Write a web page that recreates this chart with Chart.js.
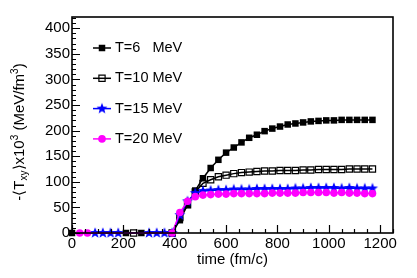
<!DOCTYPE html>
<html>
<head>
<meta charset="utf-8">
<script src="https://cdn.jsdelivr.net/npm/chart.js@4.4.1/dist/chart.umd.min.js"></script>
<style>
  html, body { margin: 0; padding: 0; background: #fff; }
  #wrap { width: 417px; height: 278px; }
</style>
</head>
<body>
<div id="wrap"><canvas id="chart" width="417" height="278"></canvas></div>
<script>
"use strict";

// time points (fm/c) and -<Txy> x 10^3 values
const rampTimes = [390, 420, 450, 480, 510, 540, 570, 600, 630, 660, 690, 720, 750,
  780, 810, 840, 870, 900, 930, 960, 990, 1020, 1050, 1080, 1110, 1140, 1170];

const times6 = [0, 210, 270].concat(rampTimes);
const values6 = [0, 0, 0,
  0, 25, 55, 83, 107, 127, 143, 157, 167, 177, 186, 192, 199,
  204, 208, 212, 214, 216, 218, 219, 220, 220, 221, 221, 221, 221, 221];

const times10 = [240].concat(rampTimes);
const values10 = [0,
  0, 30, 55, 80, 97, 104, 110, 113, 116, 118, 119, 120, 121,
  121, 122, 122, 122, 123, 123, 124, 124, 124, 124, 125, 125, 125, 125];

const times15 = [90, 120, 150, 180, 300, 330, 360].concat(rampTimes);
const values15 = [0, 0, 0, 0, 0, 0, 0,
  0, 35, 62, 78, 82, 83, 84, 84, 85, 85, 85, 86, 86,
  86, 86, 86, 87, 87, 88, 88, 88, 88, 87, 88, 87, 87, 87];

const times20 = [30, 60].concat(rampTimes);
const values20 = [0, 0,
  0, 40, 62, 71, 74, 75, 76, 76, 77, 77, 77, 77, 77,
  78, 78, 78, 78, 79, 79, 79, 79, 78, 79, 78, 78, 77, 77];

const seriesLabels = ["T=6   MeV", "T=10 MeV", "T=15 MeV", "T=20 MeV"];

const yTicks = [0, 50, 100, 150, 200, 250, 300, 350, 400];
const xTicks = [0, 200, 400, 600, 800, 1000, 1200];

const FONT = "'Liberation Sans', Arial, Helvetica, sans-serif";

function toPoints(xs, ys) {
  return xs.map((x, i) => ({ x: x, y: ys[i] }));
}

// filled blue star marker
function makeStar(color, outer, inner) {
  const size = Math.ceil(outer * 2 + 2);
  const c = document.createElement("canvas");
  c.width = size;
  c.height = size;
  const g = c.getContext("2d");
  g.fillStyle = color;
  g.beginPath();
  for (let i = 0; i < 10; i++) {
    const r = i % 2 === 0 ? outer : inner;
    const a = -Math.PI / 2 + (i * Math.PI) / 5;
    const px = size / 2 + r * Math.cos(a);
    const py = size / 2 + r * Math.sin(a);
    if (i === 0) g.moveTo(px, py);
    else g.lineTo(px, py);
  }
  g.closePath();
  g.fill();
  return c;
}

const starMarker = makeStar("#0000ff", 5.8, 2.4);

const datasets = [
  {
    label: seriesLabels[0],
    data: toPoints(times6, values6),
    borderColor: "#000000",
    backgroundColor: "#000000",
    pointStyle: "rect",
    pointRadius: 4.6,
    pointBorderWidth: 0,
    order: 4,
  },
  {
    label: seriesLabels[1],
    data: toPoints(times10, values10),
    borderColor: "#000000",
    backgroundColor: "rgba(0,0,0,0)",
    pointStyle: "rect",
    pointRadius: 4.4,
    pointBorderWidth: 1.2,
    order: 3,
  },
  {
    label: seriesLabels[2],
    data: toPoints(times15, values15),
    borderColor: "#0000ff",
    backgroundColor: "#0000ff",
    pointStyle: starMarker,
    pointRadius: 5,
    order: 2,
  },
  {
    label: seriesLabels[3],
    data: toPoints(times20, values20),
    borderColor: "#ff00ff",
    backgroundColor: "#ff00ff",
    pointStyle: "circle",
    pointRadius: 3.8,
    pointBorderWidth: 0,
    order: 1,
  },
].map((ds) => Object.assign(ds, {
  borderWidth: 1.5,
  tension: 0,
  fill: false,
  clip: false,
  pointHoverRadius: ds.pointRadius,
}));

// frame, inside ticks, axis titles and legend, ROOT style
const rootStylePlugin = {
  id: "rootStyle",
  afterDraw(chart) {
    const ctx = chart.ctx;
    const area = chart.chartArea;
    const xs = chart.scales.x;
    const ys = chart.scales.y;

    ctx.save();
    ctx.strokeStyle = "#000";
    ctx.lineWidth = 1.2;
    ctx.beginPath();
    for (let v = 0; v <= 420; v += 10) {
      const py = Math.round(ys.getPixelForValue(v)) + 0.5;
      const len = v % 50 === 0 ? 8 : 4;
      ctx.moveTo(area.left, py);
      ctx.lineTo(area.left + len, py);
    }
    for (let v = 0; v <= 1250; v += 50) {
      const px = Math.round(xs.getPixelForValue(v)) + 0.5;
      const len = v % 200 === 0 ? 8 : 4;
      ctx.moveTo(px, area.bottom);
      ctx.lineTo(px, area.bottom - len);
    }
    ctx.stroke();

    ctx.lineWidth = 1.6;
    ctx.strokeRect(area.left, area.top, area.right - area.left, area.bottom - area.top);

    // x title
    ctx.fillStyle = "#000";
    ctx.font = "15px " + FONT;
    ctx.textAlign = "center";
    ctx.textBaseline = "middle";
    ctx.fillText("time (fm/c)", (area.left + area.right) / 2, 260);

    // y title with sub/superscripts
    const parts = [
      { t: "-\u27E8T", s: 15, dy: 0 },
      { t: "xy", s: 10, dy: 4 },
      { t: "\u27E9x10", s: 15, dy: 0 },
      { t: "3", s: 10, dy: -5 },
      { t: " (MeV/fm", s: 15, dy: 0 },
      { t: "3", s: 10, dy: -5 },
      { t: ")", s: 15, dy: 0 },
    ];
    let total = 0;
    parts.forEach((p) => {
      ctx.font = p.s + "px " + FONT;
      p.w = ctx.measureText(p.t).width;
      total += p.w;
    });
    ctx.translate(20, 132);
    ctx.rotate(-Math.PI / 2);
    ctx.textAlign = "left";
    let cx = -total / 2;
    parts.forEach((p) => {
      ctx.font = p.s + "px " + FONT;
      ctx.fillText(p.t, cx, p.dy);
      cx += p.w;
    });
    ctx.restore();

    // legend
    ctx.save();
    chart.data.datasets.forEach((ds, i) => {
      const rowY = 48 + i * 30.3;
      ctx.strokeStyle = ds.borderColor;
      ctx.lineWidth = 1.5;
      ctx.beginPath();
      ctx.moveTo(93, rowY);
      ctx.lineTo(111, rowY);
      ctx.stroke();
      ctx.fillStyle = ds.backgroundColor;
      ctx.lineWidth = ds.pointBorderWidth || 0;
      Chart.helpers.drawPoint(ctx, {
        pointStyle: ds.pointStyle,
        radius: ds.pointRadius,
        rotation: 0,
        borderWidth: ds.pointBorderWidth || 0,
      }, 102, rowY);
      ctx.fillStyle = "#000";
      ctx.font = "14.5px " + FONT;
      ctx.textAlign = "left";
      ctx.textBaseline = "middle";
      ctx.fillText(ds.label, 115, rowY);
    });
    ctx.restore();
  },
};

new Chart(document.getElementById("chart"), {
  type: "line",
  data: { datasets: datasets },
  options: {
    responsive: false,
    animation: false,
    layout: { padding: { top: 17, right: 24, left: 0, bottom: 0 } },
    plugins: {
      legend: { display: false },
      tooltip: { enabled: false },
    },
    scales: {
      x: {
        type: "linear",
        min: 0,
        max: 1250,
        afterFit(scale) { scale.height = 45; },
        afterBuildTicks(scale) {
          scale.ticks = xTicks.map((v) => ({ value: v }));
        },
        grid: { display: false, drawTicks: false },
        border: { display: false },
        ticks: {
          padding: 2,
          color: "#000",
          maxRotation: 0,
          autoSkip: false,
          font: { family: FONT, size: 15 },
          callback: (v) => String(v),
        },
      },
      y: {
        min: 0,
        max: 422,
        afterFit(scale) { scale.width = 72; },
        afterBuildTicks(scale) {
          scale.ticks = yTicks.map((v) => ({ value: v }));
        },
        grid: { display: false, drawTicks: false },
        border: { display: false },
        ticks: {
          padding: 2,
          color: "#000",
          autoSkip: false,
          font: { family: FONT, size: 15 },
          callback: (v) => String(v),
        },
      },
    },
  },
  plugins: [rootStylePlugin],
});
</script>
</body>
</html>
